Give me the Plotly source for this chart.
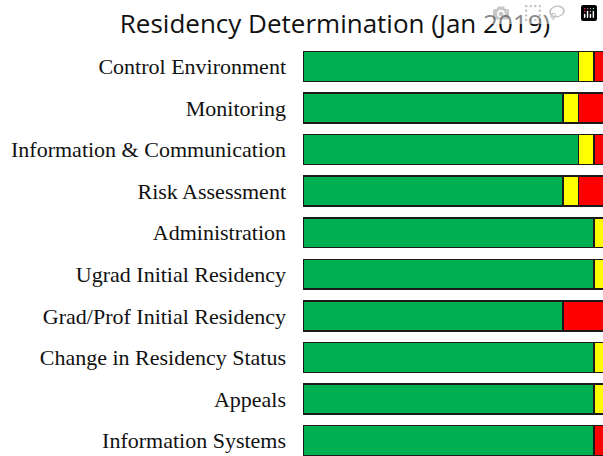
import plotly.graph_objects as go

categorias = [
    "Control Environment",
    "Monitoring",
    "Information & Communication",
    "Risk Assessment",
    "Administration",
    "Ugrad Initial Residency",
    "Grad/Prof Initial Residency",
    "Change in Residency Status",
    "Appeals",
    "Information Systems",
]
verde = [18, 17, 18, 17, 19, 19, 17, 19, 19, 19]
amarelo = [1, 1, 1, 1, 1, 1, 0, 1, 1, 0]
vermelho = [1, 2, 1, 2, 0, 0, 3, 0, 0, 1]

series = [
    ("Verde", verde, "#00B050"),
    ("Amarelo", amarelo, "#FFFF00"),
    ("Vermelho", vermelho, "#FF0000"),
]

fig = go.Figure()
for nome, valores, cor in series:
    fig.add_trace(
        go.Bar(
            y=categorias,
            x=valores,
            name=nome,
            orientation="h",
            width=0.72,
            marker=dict(color=cor, line=dict(color="#1a1a1a", width=1.6)),
        )
    )

fig.update_layout(
    barmode="stack",
    width=603,
    height=456,
    showlegend=False,
    paper_bgcolor="white",
    plot_bgcolor="white",
    margin=dict(l=303, r=0, t=46, b=0),
    title=dict(
        text="Residency Determination (Jan 2019)",
        x=335 / 603,
        xanchor="center",
        y=1 - 24 / 456,
        yanchor="middle",
        font=dict(family="Open Sans", size=26, color="#111"),
    ),
    font=dict(family="Liberation Serif", size=22, color="#111"),
    xaxis=dict(range=[0, 19.6], visible=False, fixedrange=True),
    yaxis=dict(
        range=[9.373, -0.493],
        showgrid=False,
        zeroline=False,
        ticks="",
        ticklabelstandoff=16,
        fixedrange=True,
    ),
)

# tira a margem padrão do body e a barra de rolagem
fig.write_html(
    "out.html",
    post_script="document.body.style.margin='0';document.body.style.overflow='hidden';"
    "document.documentElement.style.overflow='hidden';",
)
